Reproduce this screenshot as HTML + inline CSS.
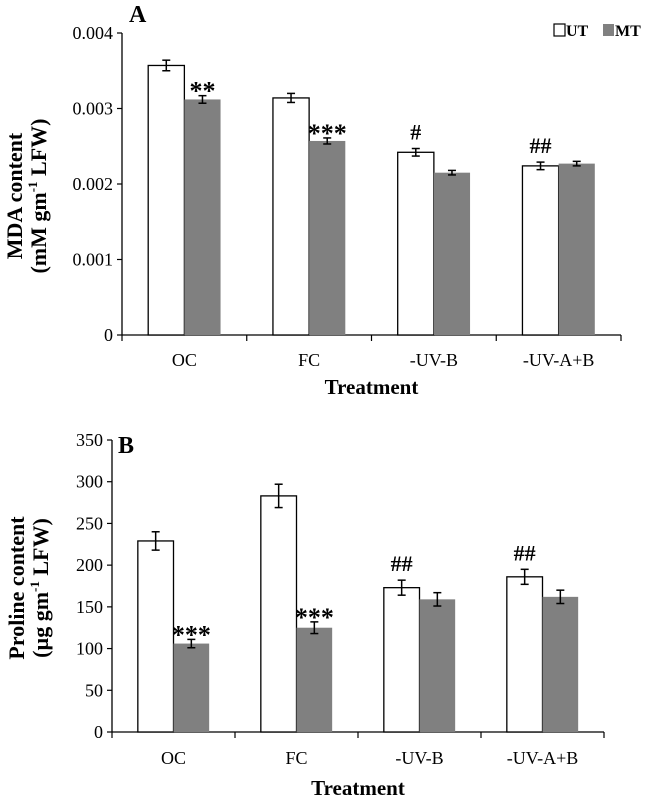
<!DOCTYPE html>
<html><head><meta charset="utf-8">
<style>
html,body{margin:0;padding:0;background:#fff;}
svg{display:block;font-family:"Liberation Serif",serif;}
</style></head>
<body>
<svg id="fig" width="646" height="802" viewBox="0 0 646 802" xmlns="http://www.w3.org/2000/svg"></svg>
<script>
const categories = ["OC","FC","-UV-B","-UV-A+B"];
const mdaUT = [0.00357,0.00314,0.00242,0.00224];
const mdaMT = [0.00312,0.00257,0.00215,0.00227];
const mdaUTerr = [0.00007,0.00006,0.00005,0.00005];
const mdaMTerr = [0.00005,0.00004,0.00003,0.00003];
const mdaTicks = ["0","0.001","0.002","0.003","0.004"];
const mdaUTmarks = ["","","#","##"];
const mdaMTmarks = ["**","***","",""];
const proUT = [229,283,173,186];
const proMT = [106,125,159,162];
const proUTerr = [11,14,9,9];
const proMTerr = [5,7,8,8];
const proTicks = ["0","50","100","150","200","250","300","350"];
const proUTmarks = ["","","##","##"];
const proMTmarks = ["***","***","",""];

const NS="http://www.w3.org/2000/svg";
const svg=document.getElementById('fig');
function mk(tag,attrs,parent){const e=document.createElementNS(NS,tag);for(const k in attrs)e.setAttribute(k,attrs[k]);(parent||svg).appendChild(e);return e;}

function chart(cfg){
  const g=mk('g',{});
  
  
  const {x0,x1,y0,yTop,ymax}=cfg;
  const ys=v=>y0-(v/ymax)*(y0-yTop);
  const gw=(x1-x0)/categories.length;
  const bw=gw*0.29;
  const ya=mk('line',{x1:x0,y1:yTop,x2:x0,y2:y0,stroke:'#000','stroke-width':1.3},g);
  
  
  const xa=mk('line',{x1:x0,y1:y0,x2:x1,y2:y0,stroke:'#000','stroke-width':1.3},g);
  
  
  cfg.ticks.forEach((t,i)=>{
    const v=i*ymax/(cfg.ticks.length-1);const y=ys(v);
    mk('line',{x1:x0-5,y1:y,x2:x0,y2:y,stroke:'#000','stroke-width':1.2},g);
    const tx=mk('text',{x:x0-9,y:y+6,'text-anchor':'end','font-size':18},g);
    tx.textContent=t;
    
    
  });
  for(let i=0;i<=categories.length;i++){const x=x0+i*gw;mk('line',{x1:x,y1:y0,x2:x,y2:y0+6,stroke:'#000','stroke-width':1.2},g);}
  categories.forEach((c,i)=>{
    const cx=x0+gw*(i+0.5);
    const tx=mk('text',{x:cx,y:cfg.xlabY,'text-anchor':'middle','font-size':18},g);
    tx.textContent=c;
    
    
    [[cfg.ut,cfg.uterr,cfg.umarks,cx-bw,'#fff','ut'],[cfg.mt,cfg.merr,cfg.mmarks,cx,'#808080','mt']].forEach(([arr,err,marks,bx,fill,nm])=>{
      const v=arr[i];const y=ys(v);
      const r=mk('rect',{x:bx,y:y,width:bw,height:y0-y,fill:fill,stroke:fill==='#fff'?'#000':'none','stroke-width':1.3},g);
      
      
      const ex=bx+bw/2;const yt=ys(v+err[i]),yb=ys(v-err[i]);
      mk('line',{x1:ex,y1:yt,x2:ex,y2:yb,stroke:'#000','stroke-width':1.5},g);
      mk('line',{x1:ex-4,y1:yt,x2:ex+4,y2:yt,stroke:'#000','stroke-width':1.5},g);
      mk('line',{x1:ex-4,y1:yb,x2:ex+4,y2:yb,stroke:'#000','stroke-width':1.5},g);
      if(marks[i]){
        const isHash=marks[i][0]==='#';
        const m=mk('text',{x:ex,y:isHash?yt-9:yt+4,'text-anchor':'middle','font-size':isHash?22:26,'font-weight':'bold'},g);m.textContent=marks[i];
        
        }
    });
  });
  const xt=mk('text',{x:(x0+x1)/2,y:cfg.titleY,'text-anchor':'middle','font-size':21,'font-weight':'bold'},g);
  xt.textContent='Treatment';
  
  
  const yt=mk('text',{transform:`translate(${cfg.ytX},${cfg.ytY}) rotate(-90)`,'text-anchor':'middle','font-size':22,'font-weight':'bold'},g);
  
  
  const t1=mk('tspan',{x:0,dy:0},yt);t1.textContent=cfg.yt1;
  const t2=mk('tspan',{x:0,dy:24},yt);t2.innerHTML=cfg.yt2;
  const L=mk('text',{x:cfg.labX,y:cfg.labY,'font-size':24,'font-weight':'bold'},g);
  L.textContent=cfg.label;
  
  
}

chart({name:'chart-a-mda',x0:122,x1:621,y0:335,yTop:33,ymax:0.004,ticks:mdaTicks,ut:mdaUT,mt:mdaMT,uterr:mdaUTerr,merr:mdaMTerr,umarks:mdaUTmarks,mmarks:mdaMTmarks,xlabY:366,titleY:394,ytX:22,ytY:196,yt1:'MDA content',yt2:'(mM gm<tspan font-size="13" dy="-9">-1</tspan><tspan dy="9"> LFW)</tspan>',label:'A',labX:129,labY:22});
chart({name:'chart-b-proline',x0:112,x1:604,y0:732,yTop:440,ymax:350,ticks:proTicks,ut:proUT,mt:proMT,uterr:proUTerr,merr:proMTerr,umarks:proUTmarks,mmarks:proMTmarks,xlabY:764,titleY:795,ytX:24,ytY:588,yt1:'Proline content',yt2:'(µg gm<tspan font-size="13" dy="-9">-1</tspan><tspan dy="9"> LFW)</tspan>',label:'B',labX:118,labY:453});

const lg=mk('g',{});


const l1=mk('rect',{x:554,y:24,width:11,height:12,fill:'#fff',stroke:'#000','stroke-width':1.2},lg);


const lt1=mk('text',{x:566,y:36,'font-size':16,'font-weight':'bold'},lg);lt1.textContent='UT';


const l2=mk('rect',{x:603,y:24,width:11,height:12,fill:'#808080'},lg);


const lt2=mk('text',{x:615,y:36,'font-size':16,'font-weight':'bold'},lg);lt2.textContent='MT';


</script>
</body></html>
